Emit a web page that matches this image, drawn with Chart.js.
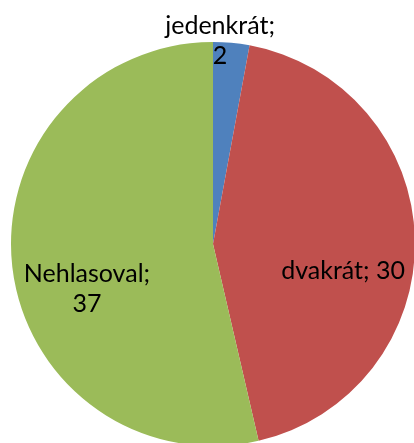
<!DOCTYPE html>
<html>
<head>
<meta charset="utf-8">
<script src="https://cdn.jsdelivr.net/npm/chart.js@4"></script>
<style>
  html, body { margin: 0; padding: 0; background: #fff; overflow: hidden; width: 414px; height: 443px; }
  #wrap { position: absolute; left: 0; top: 0; width: 430px; height: 460px; }
</style>
</head>
<body>
<div id="wrap"><canvas id="chart"></canvas></div>
<script>
const categories = ['jedenkrát', 'dvakrát', 'Nehlasoval'];
const values = [2, 30, 37];
const colors = ['#4F81BD', '#C0504D', '#9BBB59'];

// where each label sits, as a fraction of the radius from the pie centre
const labelSpots = [
  { fx: 0.035, fy: -1.005, lines: i => [categories[i] + ';', String(values[i])] },
  { fx: 0.644, fy: 0.134, lines: i => [categories[i] + '; ' + values[i]] },
  { fx: -0.624, fy: 0.223, lines: i => [categories[i] + ';', String(values[i])] }
];

const pieLabels = {
  id: 'pieLabels',
  afterDraw(chart) {
    const c = chart.ctx;
    const meta = chart.getDatasetMeta(0);
    c.save();
    c.font = '25px Lato';
    c.fillStyle = '#000';
    c.textAlign = 'center';
    c.textBaseline = 'middle';
    meta.data.forEach((arc, i) => {
      const { x, y, outerRadius } = arc.getProps(['x', 'y', 'outerRadius'], true);
      const spot = labelSpots[i];
      const lines = spot.lines(i);
      const lh = 30;
      const bx = x + outerRadius * spot.fx;
      const by = y + outerRadius * spot.fy - (lines.length - 1) * lh / 2;
      lines.forEach((t, k) => c.fillText(t, bx, by + k * lh));
    });
    c.restore();
  }
};

new Chart(document.getElementById('chart'), {
  type: 'pie',
  data: {
    labels: categories,
    datasets: [{
      data: values,
      backgroundColor: colors,
      borderWidth: 0
    }]
  },
  options: {
    responsive: true,
    maintainAspectRatio: false,
    animation: false,
    layout: { padding: { left: 11, top: 42, right: 15, bottom: 14 } },
    plugins: { legend: { display: false }, tooltip: { enabled: false } }
  },
  plugins: [pieLabels]
});
</script>
</body>
</html>
